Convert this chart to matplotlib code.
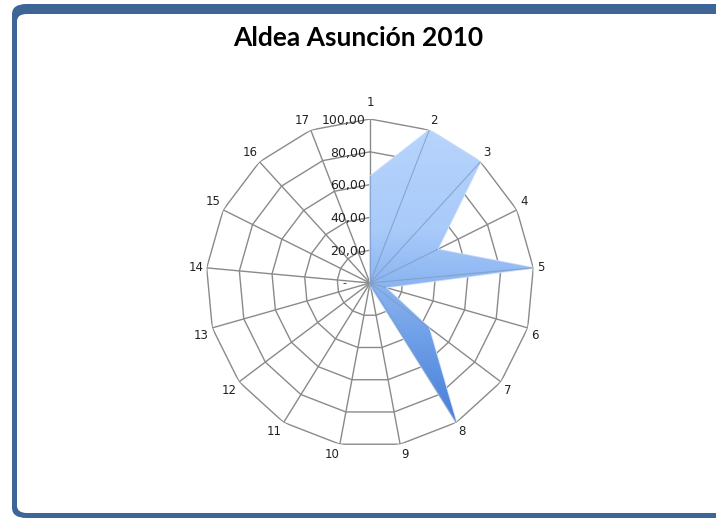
import numpy as np
import matplotlib.pyplot as plt
from matplotlib.patches import FancyBboxPatch
from matplotlib.colors import LinearSegmentedColormap

categorias = [str(i) for i in range(1, 18)]
valores = [65, 100, 100, 46, 100, 10, 45, 100, 2, 0, 0, 0, 0, 0, 0, 0, 0]
anillos = [20, 40, 60, 80, 100]
etiquetas_r = ['20,00', '40,00', '60,00', '80,00', '100,00']

W, H = 716, 520
fig = plt.figure(figsize=(W / 100, H / 100), dpi=100)
fig.patch.set_facecolor('white')

# marco azul redondeado
fig.patches.append(FancyBboxPatch((12 / W, 2 / H), 730 / W, 514 / H,
                                  boxstyle='round,pad=0,rounding_size=0.02',
                                  transform=fig.transFigure, facecolor='#3d6595',
                                  edgecolor='none', zorder=0))
fig.patches.append(FancyBboxPatch((17 / W, 7 / H), 720 / W, 499 / H,
                                  boxstyle='round,pad=0,rounding_size=0.014',
                                  transform=fig.transFigure, facecolor='white',
                                  edgecolor='none', zorder=1))

fig.text(358 / W, 1 - 38 / H, 'Aldea Asunción 2010', ha='center', va='center',
         fontsize=19, fontweight='bold', family='Lato', color='black', zorder=5)

cx, cy, rad = 370, 283, 164
ax = fig.add_axes([(cx - rad) / W, (H - cy - rad) / H, 2 * rad / W, 2 * rad / H],
                  projection='polar', zorder=3)
ax.set_theta_zero_location('N')
ax.set_theta_direction(-1)
ax.patch.set_alpha(0)
ax.grid(False)
ax.spines['polar'].set_visible(False)
ax.set_xticks([])
ax.set_yticks([])

n = len(categorias)
ang = np.arange(n) * 2 * np.pi / n
ang_c = np.append(ang, ang[0])

# rejilla poligonal
gris = '#8a8a8a'
for r in anillos:
    ax.plot(ang_c, [r] * (n + 1), color=gris, lw=1, zorder=1)
for a in ang:
    ax.plot([a, a], [0, 100], color=gris, lw=1, zorder=1)

# area con degradado
val_c = np.append(valores, valores[0])
poly = ax.fill(ang_c, val_c, facecolor='#8fb6f0', edgecolor='#cfe0fa', lw=1.2, zorder=2)[0]
cmap = LinearSegmentedColormap.from_list('az', ['#3a74d4', '#6f9fe8', '#a9cbfa', '#b8d5fc'])
grad = np.linspace(0, 1, 256).reshape(-1, 1)
im = ax.imshow(grad, extent=[0, 1, 0, 1], transform=ax.transAxes, cmap=cmap,
               origin='lower', aspect='auto', zorder=2.1, interpolation='bilinear')
im.set_clip_path(poly)
for a, v in zip(ang, valores):
    if v > 0:
        ax.plot([a, a], [0, v], color='#7f9cc4', lw=0.8, alpha=0.8, zorder=2.2)

ax.set_ylim(0, 100)
ax.set_xlim(0, 2 * np.pi)

# etiquetas de categoria, alineadas hacia fuera del poligono
for a, c in zip(ang, categorias):
    s, co = np.sin(a), np.cos(a)
    ha = 'left' if s > 0.1 else ('right' if s < -0.1 else 'center')
    va = 'bottom' if co > 0.1 else ('top' if co < -0.1 else 'center')
    extra = 5 if abs(s) < 0.1 and co > 0 else 0
    ax.annotate(c, xy=(a, 100), xytext=(2.5 * s, (2.5 + extra) * co),
                textcoords='offset points', ha=ha, va=va,
                fontsize=8.5, color='#222222')

# etiquetas del eje radial
for r, t in zip(anillos, etiquetas_r):
    ax.annotate(t, xy=(0, r), xytext=(-3, -1), textcoords='offset points',
                ha='right', va='center', fontsize=9, color='#222222', zorder=4)
ax.annotate('-', xy=(0, 0), xytext=(-17, 0), textcoords='offset points',
            ha='right', va='center', fontsize=8, color='#222222', zorder=4)

fig.savefig('out.png', dpi=100)
